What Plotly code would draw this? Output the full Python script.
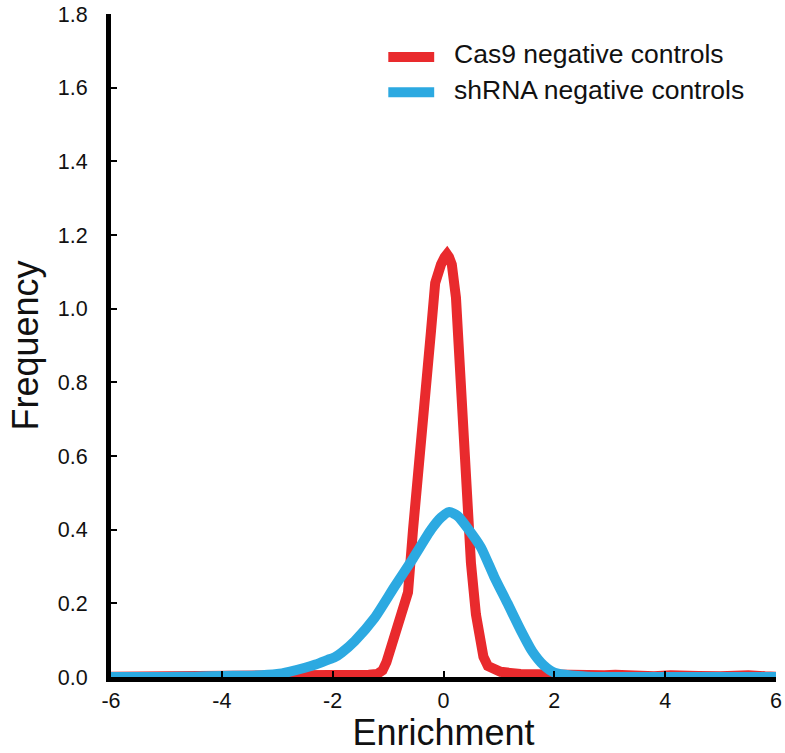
import plotly.graph_objects as go

# Enrichment grid and frequency curves for the two control sets
cas9_x = [-6.0, -5.0, -4.0, -3.2, -2.6, -2.2, -1.9, -1.6, -1.35, -1.2, -1.1, -1.03, -0.95, -0.85, -0.72,
          -0.64, -0.55, -0.37, -0.225, -0.15, -0.1, -0.045, 0.02, 0.063, 0.1, 0.15, 0.225, 0.315, 0.405,
          0.495, 0.585, 0.66, 0.72, 0.80, 0.90, 1.03, 1.39, 1.8, 2.1, 2.6, 2.9, 3.1, 3.4, 3.8, 4.1, 4.3,
          4.6, 5.0, 5.3, 5.5, 5.8, 6.0]
cas9_y = [0.001, 0.001, 0.002, 0.003, 0.004, 0.005, 0.007, 0.006, 0.006, 0.008, 0.018, 0.04, 0.075, 0.125, 0.18,
          0.23, 0.40, 0.67, 0.94, 1.07, 1.10, 1.12, 1.14, 1.148, 1.14, 1.12, 1.03, 0.76, 0.49,
          0.31, 0.17, 0.09, 0.055, 0.03, 0.02, 0.014, 0.008, 0.006, 0.003, 0.002, 0.005, 0.006, 0.003, 0.002, 0.005,
          0.006, 0.003, 0.002, 0.005, 0.005, 0.002, 0.001]

shrna_x = [-6.0, -5.0, -4.5, -4.0, -3.46, -3.0, -2.79, -2.5, -2.31, -2.1, -1.96, -1.84, -1.60,
           -1.245, -0.885, -0.55, -0.225, -0.045, 0.105, 0.255, 0.435, 0.675, 0.915, 1.155,
           1.39, 1.6, 1.8, 2.0, 2.3, 2.6, 3.0, 4.0, 5.0, 6.0]
shrna_y = [0.0, 0.0, 0.001, 0.003, 0.0035, 0.008, 0.014, 0.025, 0.034, 0.046, 0.054, 0.066, 0.098,
           0.16, 0.245, 0.322, 0.40, 0.433, 0.448, 0.437, 0.404, 0.352, 0.272, 0.20,
           0.128, 0.07, 0.033, 0.012, 0.004, 0.001, 0.0, 0.0, 0.0, 0.0]

series_names = ["Cas9 negative controls", "shRNA negative controls"]
series_colors = ["#E92A2D", "#2CA9E1"]
series_shapes = ["linear", "spline"]

x_ticks = [-6, -4, -2, 0, 2, 4, 6]
y_ticks = [0.0, 0.2, 0.4, 0.6, 0.8, 1.0, 1.2, 1.4, 1.6, 1.8]

FONT = "Liberation Sans, Arial, Helvetica, sans-serif"

fig = go.Figure()
for xs, ys, name, color, shp in zip([cas9_x, shrna_x], [cas9_y, shrna_y],
                                    series_names, series_colors, series_shapes):
    line = dict(color=color, width=10, shape=shp)
    if shp == "spline":
        line["smoothing"] = 0.6
    fig.add_trace(go.Scatter(
        x=xs, y=ys, name=name, mode="lines", line=line,
        showlegend=False, hoverinfo="x+y+name",
    ))

# Legend drawn as line swatches with text labels in the upper right
legend_rows_y = [0.935, 0.882]
for name, color, ly in zip(series_names, series_colors, legend_rows_y):
    fig.add_shape(type="line", xref="paper", yref="paper",
                  x0=0.417, x1=0.486, y0=ly, y1=ly,
                  line=dict(color=color, width=10))
    fig.add_annotation(xref="paper", yref="paper", x=0.513, y=ly + 0.004,
                       xanchor="left", yanchor="middle", text=name, showarrow=False,
                       font=dict(family=FONT, size=26.5, color="#111111"))

axis_common = dict(
    showline=True, linecolor="black", linewidth=5,
    ticks="inside", ticklen=6, tickwidth=1.5, tickcolor="black",
    showgrid=False, zeroline=False, automargin=False,
    tickfont=dict(family=FONT, size=21.5, color="#111111"),
)

fig.update_layout(
    width=785, height=753,
    margin=dict(l=111, r=9, t=14, b=76),
    paper_bgcolor="white", plot_bgcolor="white",
    xaxis=dict(range=[-6, 6], tickvals=x_ticks, ticktext=[str(t) for t in x_ticks],
               title=dict(text="Enrichment", font=dict(family=FONT, size=36, color="#111111"),
                          standoff=3),
               **axis_common),
    yaxis=dict(range=[0, 1.8], tickvals=y_ticks, ticktext=[f"{t:.1f}" for t in y_ticks],
               title=dict(text="Frequency", font=dict(family=FONT, size=36, color="#111111"),
                          standoff=10),
               ticklabelstandoff=14,
               **axis_common),
)

fig.write_html("out.html")
